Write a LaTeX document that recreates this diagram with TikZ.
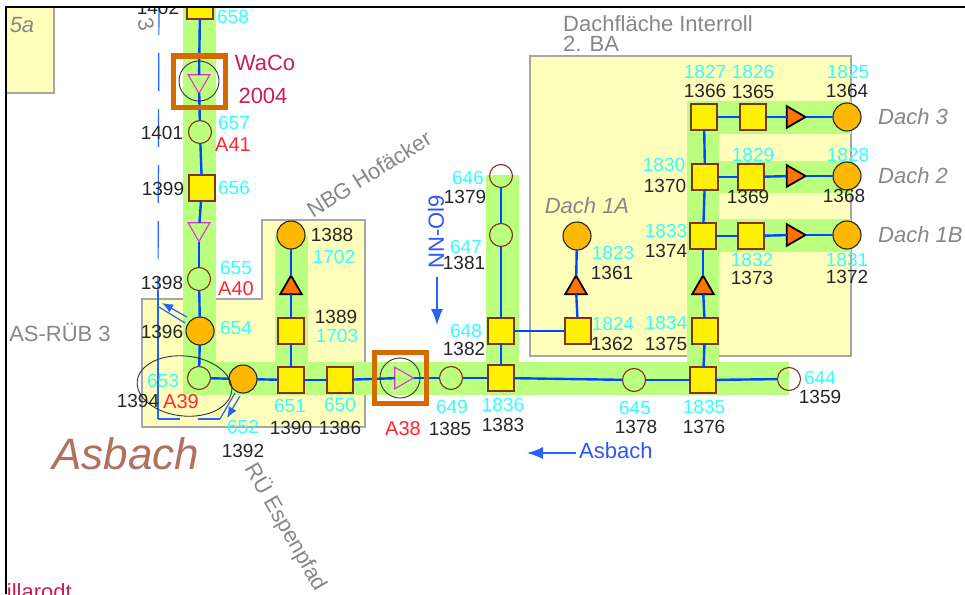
\documentclass[tikz,border=0pt]{standalone}
\usepackage{fontspec}
\setmainfont{Liberation Sans}
\usetikzlibrary{shapes.geometric,arrows.meta}
\definecolor{band}{RGB}{186,255,125}
\definecolor{area}{RGB}{255,255,187}
\definecolor{pipe}{RGB}{0,70,255}
\definecolor{edgeb}{RGB}{130,50,25}
\definecolor{tcy}{RGB}{50,255,255}
\definecolor{tred}{RGB}{255,40,50}
\definecolor{tgray}{RGB}{135,135,135}
\definecolor{tbrown}{RGB}{178,112,96}
\definecolor{tcrim}{RGB}{200,30,85}
\definecolor{orgo}{RGB}{255,184,0}
\definecolor{orgt}{RGB}{255,115,0}
\definecolor{orgb}{RGB}{214,106,0}
\definecolor{pinkt}{RGB}{225,50,215}
\definecolor{tblue}{RGB}{45,85,255}
\tikzset{
  sq/.style={draw=edgeb,line width=1.2pt,fill=yellow,minimum size=26pt,inner sep=0pt,outer sep=0pt},
  sc/.style={circle,draw=edgeb,line width=1.1pt,minimum size=23pt,inner sep=0pt,outer sep=0pt},
  oc/.style={circle,draw=black!85,line width=1.1pt,fill=orgo,minimum size=28pt,inner sep=0pt,outer sep=0pt},
  tri/.style={regular polygon,regular polygon sides=3,minimum size=25pt,inner sep=0pt,outer sep=0pt},
  otri/.style={tri,draw=black,line width=1.8pt,fill=orgt},
  ptri/.style={tri,draw=pinkt,line width=1.1pt,fill=band},
  txt/.style={font=\fontsize{19}{21}\selectfont,inner sep=0pt},
  lbl/.style={txt,text=black!85},
  cyl/.style={txt,text=tcy},
  redl/.style={txt,text=tred,font=\fontsize{20}{21}\selectfont},
  grl/.style={txt,text=tgray,font=\fontsize{22}{24}\selectfont},
  gri/.style={txt,text=tgray,font=\fontsize{22}{24}\selectfont\itshape},
  pipeline/.style={draw=pipe,line width=2.4pt},
  thin blue/.style={draw=pipe!85!white,line width=1.2pt},
  pumpbox/.style={draw=orgb,line width=5pt,minimum width=52pt,minimum height=51pt,inner sep=0pt,outer sep=0pt},
  pumpc/.style={circle,draw=black!80,line width=.9pt,minimum size=40pt,inner sep=0pt,outer sep=0pt},
  tip/.style={-{Latex[length=16pt,width=12pt]}}
}
\newcommand{\bl}[3]{\node[lbl] (b#1) at (#2,#3) {#1};}
\newcommand{\cy}[3]{\node[cyl] (c#1) at (#2,#3) {#1};}
\begin{document}
\begin{tikzpicture}[x=1pt,y=-1pt]
\useasboundingbox (0,0) rectangle (965,594);
\begin{scope}
\clip (7,8) rectangle (965,594);
% areas
\path[fill=area,draw=black!35,line width=1.2pt] (5,5) rectangle (54,93);
\path[fill=area,draw=black!35,line width=1.2pt] (142,299) -- (262,299) -- (262,220) -- (365,220) -- (365,427) -- (142,427) -- cycle;
\path[fill=area,draw=black!35,line width=1.2pt] (530,56) rectangle (851,356);
% green bands
\fill[band] (183,0) rectangle (216,394);
\fill[band] (183,362) rectangle (789,395);
\fill[band] (275,236) rectangle (308,362);
\fill[band] (486,175) rectangle (519,362);
\fill[band] (687,101) rectangle (719,380);
\fill[band] (687,101) rectangle (851,134);
\fill[band] (687,161) rectangle (851,193);
\fill[band] (687,219) rectangle (851,252);
% dashed boundary and flow marks
\coordinate (da) at (159,-3);
\coordinate (db) at (158,290);
\coordinate (dc) at (158,419);
\coordinate (dd) at (220,419);
\coordinate (de) at (235,393);
\draw[thin blue,dash pattern=on 38pt off 18pt] (da) -- (db);
\draw[thin blue] (db) -- (dc);
\draw[thin blue,dash pattern=on 22pt off 18pt on 30pt] (dc) -- (dd);
\draw[thin blue] (dd) -- (de);
\coordinate (fa) at (240,396);
\coordinate (fb) at (227,418);
\draw[thin blue,-{Latex[length=11pt,width=9pt]}] (fa) -- (fb);
\coordinate (ga) at (187,317);
\coordinate (gb) at (162,303);
\draw[thin blue,-{Latex[length=11pt,width=9pt]}] (ga) -- (gb);
\coordinate (gc) at (185,323);
\coordinate (gd) at (159,307);
\draw[thin blue] (gc) -- (gd);
% nodes
\node[sq] (s658) at (200,6) {};
\node[ptri,shape border rotate=180] (t1) at (199,81) {};
\node[sc] (n657) at (200,132) {};
\node[sq] (s656) at (202,188) {};
\node[ptri,shape border rotate=180] (t2) at (199,229) {};
\node[sc] (n655) at (199,279) {};
\node[oc] (o654) at (200,331) {};
\node[sc] (n653) at (199,378) {};
\node[oc] (o652) at (243,379) {};
\node[sq] (s651) at (291,380) {};
\node[sq] (s650) at (340,380) {};
\node[ptri,shape border rotate=-90] (t3) at (401,378) {};
\node[sc] (n649) at (451,378) {};
\node[sq] (s1836) at (501,378) {};
\node[sc] (n645) at (634,380) {};
\node[sq] (s1835) at (703,380) {};
\node[sc] (n644) at (789,379) {};
\node[oc] (o1388) at (291,235) {};
\node[otri] (t4) at (291,288) {};
\node[sq] (s1389) at (291,331) {};
\node[sc] (n646) at (501,176) {};
\node[sc] (n647) at (501,235) {};
\node[sq] (s648) at (501,331) {};
\node[sq] (s1824) at (578,331) {};
\node[otri] (t5) at (576,288) {};
\node[oc] (o1823) at (577,236) {};
\node[sq] (s1827) at (704,117) {};
\node[sq] (s1830) at (705,177) {};
\node[sq] (s1833) at (703,236) {};
\node[otri] (t6) at (703,288) {};
\node[sq] (s1834) at (705,331) {};
\node[sq] (s1826) at (753,117) {};
\node[sq] (s1829) at (751,177) {};
\node[sq] (s1832) at (751,236) {};
\node[otri,shape border rotate=-90] (t7) at (793,117) {};
\node[otri,shape border rotate=-90] (t8) at (793,176) {};
\node[otri,shape border rotate=-90] (t9) at (793,235) {};
\node[oc] (o1825) at (847,117) {};
\node[oc] (o1828) at (847,176) {};
\node[oc] (o1831) at (847,235) {};
% pipes
\draw[pipeline] (s658) -- (t1); \draw[pipeline] (t1) -- (n657); \draw[pipeline] (n657) -- (s656);
\draw[pipeline] (s656) -- (t2); \draw[pipeline] (t2) -- (n655); \draw[pipeline] (n655) -- (o654);
\draw[pipeline] (o654) -- (n653); \draw[pipeline] (n653) -- (o652); \draw[pipeline] (o652) -- (s651);
\draw[pipeline] (s651) -- (s650); \draw[pipeline] (s650) -- (t3); \draw[pipeline] (t3) -- (n649);
\draw[pipeline] (n649) -- (s1836); \draw[pipeline] (s1836) -- (n645); \draw[pipeline] (n645) -- (s1835);
\draw[pipeline] (s1835) -- (n644);
\draw[pipeline] (s651) -- (s1389); \draw[pipeline] (s1389) -- (t4); \draw[pipeline] (t4) -- (o1388);
\draw[pipeline] (s1836) -- (s648); \draw[pipeline] (s648) -- (n647); \draw[pipeline] (n647) -- (n646);
\draw[pipeline] (s648) -- (s1824); \draw[pipeline] (s1824) -- (t5); \draw[pipeline] (t5) -- (o1823);
\draw[pipeline] (s1835) -- (s1834); \draw[pipeline] (s1834) -- (t6); \draw[pipeline] (t6) -- (s1833);
\draw[pipeline] (s1833) -- (s1830); \draw[pipeline] (s1830) -- (s1827);
\draw[pipeline] (s1827) -- (s1826); \draw[pipeline] (s1826) -- (t7); \draw[pipeline] (t7) -- (o1825);
\draw[pipeline] (s1830) -- (s1829); \draw[pipeline] (s1829) -- (t8); \draw[pipeline] (t8) -- (o1828);
\draw[pipeline] (s1833) -- (s1832); \draw[pipeline] (s1832) -- (t9); \draw[pipeline] (t9) -- (o1831);
% pump boxes
\node[pumpc] (pc1) at (199,81) {};
\node[pumpbox] (pb1) at (199.5,81.5) {};
\node[pumpc] (pc2) at (400,378) {};
\node[pumpbox] (pb2) at (400.5,378) {};
\node[draw=black!80,line width=.9pt,ellipse,rotate=-6,minimum width=95pt,minimum height=60pt,inner sep=0pt] (el) at (184.5,386) {};
% labels
\cy{658}{233}{17} \cy{657}{234}{123} \cy{656}{234}{188} \cy{655}{236}{268} \cy{654}{236}{328} \cy{653}{163}{381}
\cy{651}{290}{406} \cy{652}{243}{427} \cy{650}{340}{405} \cy{1702}{334}{257} \cy{1703}{337}{336}
\cy{649}{452}{407} \cy{1836}{503}{405} \cy{645}{635}{408} \cy{1835}{704}{407} \cy{644}{820}{378}
\cy{648}{466}{331} \cy{646}{468}{178} \cy{647}{466}{247} \cy{1823}{613}{253} \cy{1824}{613}{324} \cy{1834}{666}{323}
\cy{1827}{705}{72} \cy{1826}{753}{72} \cy{1825}{848}{72} \cy{1830}{664}{165} \cy{1829}{753}{155} \cy{1828}{848}{155}
\cy{1833}{666}{231} \cy{1832}{752}{260} \cy{1831}{847}{260}
\bl{1402}{158}{8} \bl{1401}{162}{133} \bl{1399}{163}{189} \bl{1398}{162}{283} \bl{1396}{162}{332} \bl{1394}{138}{401}
\bl{1390}{291}{428} \bl{1392}{243}{451} \bl{1386}{340}{428} \bl{1388}{332}{235} \bl{1389}{336}{317}
\bl{1385}{450}{429} \bl{1383}{503}{425} \bl{1378}{636}{427} \bl{1376}{704}{427} \bl{1359}{820}{397}
\bl{1382}{464}{349} \bl{1379}{465}{197} \bl{1381}{464}{263} \bl{1361}{612}{273} \bl{1362}{612}{344} \bl{1375}{666}{344}
\bl{1366}{705}{91} \bl{1365}{753}{92} \bl{1364}{847}{91} \bl{1370}{665}{186} \bl{1369}{748}{197} \bl{1368}{844}{196}
\bl{1374}{666}{251} \bl{1373}{752}{278} \bl{1372}{847}{277}
\node[redl] (a41) at (233,145) {A41};
\node[redl] (a40) at (236,289) {A40};
\node[redl] (a39) at (181,402) {A39};
\node[redl] (a38) at (403,429) {A38};
\node[txt,text=tcrim,font=\fontsize{22}{24}\selectfont] (waco) at (265,63) {WaCo};
\node[txt,text=tcrim,font=\fontsize{22}{24}\selectfont] (y2004) at (263,96) {2004};
\node[gri] (l5a) at (22,25) {5a};
\node[grl,rotate=-75] (l3) at (146,24) {3};
\node[grl,anchor=west] (ld1) at (563,24) {Dachfläche Interroll};
\node[grl,anchor=west] (ld2) at (563,44) {2. BA};
\node[grl,rotate=32] (lnbg) at (369,174) {NBG Hofäcker};
\node[grl] (las) at (60,332) {AS-RÜB 3};
\node[grl,rotate=-60] (lru) at (286,527) {RÜ Espenpfad};
\node[txt,text=tbrown,font=\fontsize{44}{48}\itshape\selectfont] (lasb) at (126,454) {Asbach};
\node[gri,anchor=west] (ld3) at (878,117) {Dach 3};
\node[gri,anchor=west] (ld4) at (878,176) {Dach 2};
\node[gri,anchor=west] (ld5) at (878,235) {Dach 1B};
\node[gri] (ld6) at (587,206) {Dach 1A};
\node[txt,text=tblue,rotate=90,font=\fontsize{22}{24}\selectfont] (lnn) at (436,232) {NN-Ol9};
\node[txt,text=tblue,anchor=west,font=\fontsize{22}{24}\selectfont] (lab) at (579,451) {Asbach};
\coordinate (na) at (437,277);
\coordinate (nb) at (437,325);
\draw[thin blue,tip] (na) -- (nb);
\coordinate (aa) at (576,453);
\coordinate (ab) at (527,453);
\draw[thin blue,tip] (aa) -- (ab);
\node[txt,text=tcrim,anchor=base west,font=\fontsize{22}{24}\selectfont] (lwil) at (-14,599) {Willarodt};
\end{scope}
\draw[black,line width=2pt] (6,594) -- (6,7) -- (965,7);
\end{tikzpicture}
\end{document}
